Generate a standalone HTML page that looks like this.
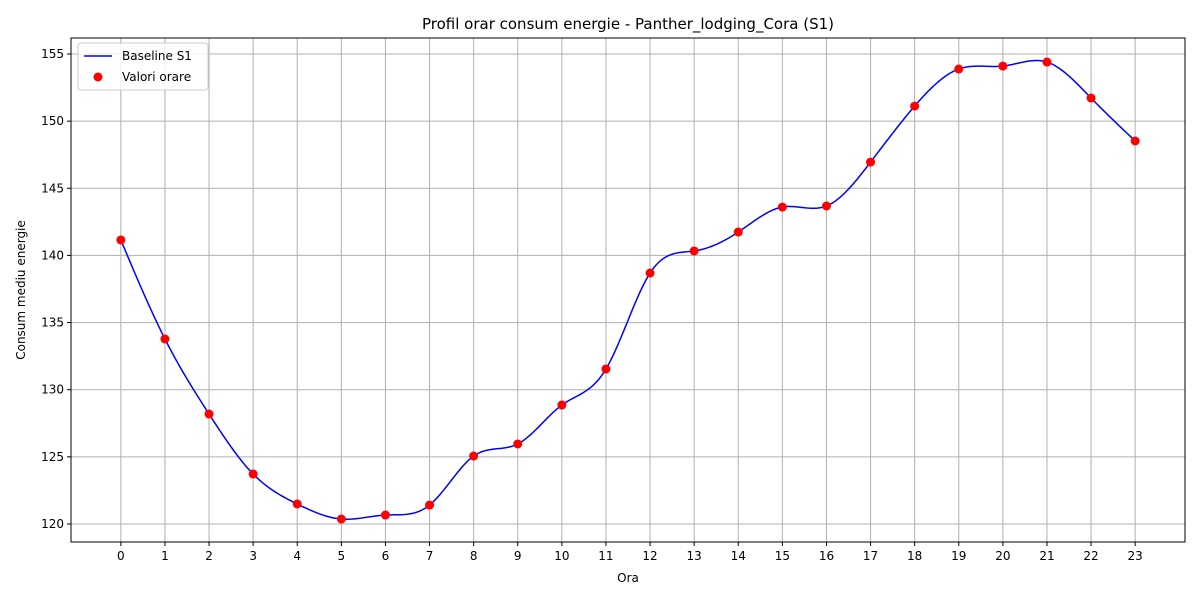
<!DOCTYPE html>
<html><head><meta charset="utf-8"><style>
body{margin:0;background:#fff;font-family:"Liberation Sans","DejaVu Sans",sans-serif}
svg text{font-family:"DejaVu Sans","Liberation Sans",sans-serif}
</style></head><body>
<svg id="chart" width="1200" height="600" xmlns="http://www.w3.org/2000/svg"></svg>
<script>
const hours=[0,1,2,3,4,5,6,7,8,9,10,11,12,13,14,15,16,17,18,19,20,21,22,23];
const values=[141.15,133.78,128.19,123.72,121.49,120.37,120.67,121.41,125.06,125.96,128.86,131.54,138.69,140.33,141.74,143.6,143.68,146.95,151.12,153.88,154.1,154.4,151.72,148.52];
const yTicks=[120,125,130,135,140,145,150,155];
const L=71,R=1185,T=38,B=542;
const xMin=-1.13,xMax=24.13,yMin=118.66,yMax=156.19;
const sx=v=>L+(v-xMin)/(xMax-xMin)*(R-L);
const sy=v=>B-(v-yMin)/(yMax-yMin)*(B-T);
const svg=document.getElementById('chart');
const NS='http://www.w3.org/2000/svg';
function mk(tag,attrs,parent){const e=document.createElementNS(NS,tag);for(const k in attrs)e.setAttribute(k,attrs[k]);(parent||svg).appendChild(e);return e;}
// grid
const grid=mk('g',{});


hours.forEach(h=>{mk('line',{x1:sx(h),x2:sx(h),y1:T,y2:B,stroke:'#b0b0b0','stroke-width':1},grid);});
yTicks.forEach(v=>{mk('line',{x1:L,x2:R,y1:sy(v),y2:sy(v),stroke:'#b0b0b0','stroke-width':1},grid);});
// ticks & labels
const xt=mk('g',{});


hours.forEach(h=>{mk('line',{x1:sx(h),x2:sx(h),y1:B,y2:B+4,stroke:'#000'},xt);const t=mk('text',{x:sx(h),y:B+18,'text-anchor':'middle','font-size':12},xt);t.textContent=h;});
const yt=mk('g',{});


yTicks.forEach(v=>{mk('line',{x1:L-4,x2:L,y1:sy(v),y2:sy(v),stroke:'#000'},yt);const t=mk('text',{x:L-7,y:sy(v)+4,'text-anchor':'end','font-size':12},yt);t.textContent=v;});
// spline (natural cubic)
function spline(xs,ys){const n=xs.length,h=[],a=[],l=[1],mu=[0],z=[0],c=new Array(n).fill(0),b=[],d=[];
for(let i=0;i<n-1;i++)h.push(xs[i+1]-xs[i]);
for(let i=1;i<n-1;i++)a[i]=3/h[i]*(ys[i+1]-ys[i])-3/h[i-1]*(ys[i]-ys[i-1]);
for(let i=1;i<n-1;i++){l[i]=2*(xs[i+1]-xs[i-1])-h[i-1]*mu[i-1];mu[i]=h[i]/l[i];z[i]=(a[i]-h[i-1]*z[i-1])/l[i];}
for(let j=n-2;j>=0;j--){c[j]=(j<n-1&&j>0?z[j]-mu[j]*c[j+1]:(j==0?0:0));if(j>0)c[j]=z[j]-mu[j]*c[j+1];b[j]=(ys[j+1]-ys[j])/h[j]-h[j]*(c[j+1]+2*c[j])/3;d[j]=(c[j+1]-c[j])/(3*h[j]);}
return x=>{let i=Math.min(n-2,Math.max(0,Math.floor(x-xs[0])));const dx=x-xs[i];return ys[i]+b[i]*dx+c[i]*dx*dx+d[i]*dx*dx*dx;};}
const f=spline(hours,values);
let dstr='';
for(let x=0;x<=23.0001;x+=0.05){dstr+=(dstr?'L':'M')+sx(x).toFixed(2)+','+sy(f(x)).toFixed(2);}
const line=mk('path',{d:dstr,fill:'none',stroke:'#0000ff','stroke-width':1.5});


hours.forEach((h,i)=>{const c=mk('circle',{cx:sx(h),cy:sy(values[i]),r:4.5,fill:'#ff0000'});

});
// frame
const fr=mk('rect',{x:L,y:T,width:R-L,height:B-T,fill:'none',stroke:'#000','stroke-width':1});


// titles
const tt=mk('text',{x:628,y:29,'text-anchor':'middle','font-size':15});tt.textContent='Profil orar consum energie - Panther_lodging_Cora (S1)';


const xl=mk('text',{x:628,y:582,'text-anchor':'middle','font-size':12});xl.textContent='Ora';


const yl=mk('text',{x:25,y:290,'text-anchor':'middle','font-size':12,transform:'rotate(-90 25 290)'});yl.textContent='Consum mediu energie';


// legend
const lg=mk('g',{});


mk('rect',{x:78,y:43,width:130,height:47,rx:3,fill:'#fff','fill-opacity':0.8,stroke:'#ccc'},lg);
mk('line',{x1:84,x2:112,y1:56,y2:56,stroke:'#0000ff','stroke-width':1.5},lg);
const l1=mk('text',{x:122,y:60,'font-size':12},lg);l1.textContent='Baseline S1';
mk('circle',{cx:98,cy:77,r:4.5,fill:'#ff0000'},lg);
const l2=mk('text',{x:122,y:81,'font-size':12},lg);l2.textContent='Valori orare';
</script>
</body></html>
